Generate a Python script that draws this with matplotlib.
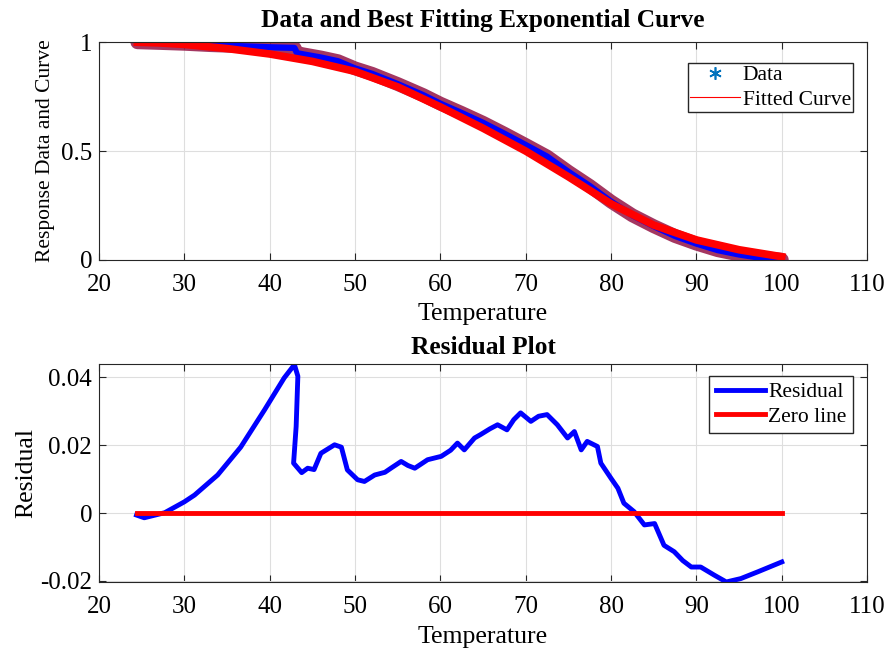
import numpy as np
import matplotlib.pyplot as plt
from matplotlib.lines import Line2D

plt.rcParams['font.family'] = ['Liberation Serif', 'DejaVu Serif']
plt.rcParams['axes.unicode_minus'] = False

data_T = [24.5, 27, 30, 33, 36.6, 40, 42.9, 43.2, 44, 46, 48, 50, 52, 55, 58, 60,
          62.5, 65, 67.5, 70, 72.5, 75, 77.5, 80, 82.5, 85, 87.5, 90, 92.5, 95, 97.5, 100]
data_y = [1.000, 0.997, 0.993, 0.987, 0.982, 0.977, 0.974, 0.950, 0.944, 0.930, 0.913,
          0.880, 0.855, 0.808, 0.757, 0.718, 0.675, 0.630, 0.580, 0.528, 0.475, 0.405,
          0.340, 0.268, 0.205, 0.155, 0.110, 0.075, 0.045, 0.025, 0.010, 0.001]

# fitted exponential curve
fit_T = [24.5, 27, 30, 35, 40, 45, 50, 55, 60, 65, 70, 75, 80, 85, 90, 95, 100]
fit_y = [1.000, 0.997, 0.990, 0.971, 0.946, 0.912, 0.866, 0.795, 0.703, 0.605, 0.500,
         0.382, 0.258, 0.160, 0.092, 0.047, 0.015]

# residuals
res_T = [24.4, 25.3, 27.7, 30.0, 31.2, 33.9, 36.6, 39.4, 41.7, 42.9, 43.3, 43.1, 42.8,
         43.75, 44.45, 45.2, 46.0, 47.6, 48.4, 49.1, 50.3, 51.1, 52.3, 53.5, 54.2, 55.4,
         56.2, 57.0, 58.5, 60.1, 61.2, 62.0, 62.8, 64.0, 64.7, 65.8, 66.7, 67.8, 68.6,
         69.4, 70.6, 71.5, 72.5, 73.7, 74.9, 75.7, 76.5, 77.2, 78.4, 78.8, 80.0, 80.8,
         81.5, 82.7, 83.9, 85.1, 86.2, 87.4, 88.4, 89.4, 90.5, 92.1, 93.5, 95.2, 97.2,
         100.0]
res_y = [-0.0006, -0.0014, 0.0001, 0.0033, 0.0053, 0.0112, 0.0194, 0.0304, 0.0398,
         0.0437, 0.0403, 0.0255, 0.0147, 0.0119, 0.0132, 0.0128, 0.0176, 0.0201, 0.0194,
         0.0127, 0.0098, 0.0093, 0.0112, 0.0120, 0.0132, 0.0152, 0.0140, 0.0132, 0.0157,
         0.0167, 0.0185, 0.0206, 0.0186, 0.0221, 0.0231, 0.0248, 0.0260, 0.0245, 0.0275,
         0.0295, 0.0270, 0.0285, 0.0290, 0.0260, 0.0221, 0.0240, 0.0186, 0.0211, 0.0196,
         0.0147, 0.0102, 0.0073, 0.0029, 0.0004, -0.0035, -0.0031, -0.0095, -0.0114,
         -0.0140, -0.0159, -0.0159, -0.0183, -0.0203, -0.0193, -0.0173, -0.0144]

zero_T = [24.5, 100]
zero_y = [0, 0]

fig = plt.figure(figsize=(8.87, 6.48), dpi=100)
ax1 = fig.add_axes([0.1116, 0.5988, 0.866, 0.336])
ax2 = fig.add_axes([0.1116, 0.1019, 0.866, 0.3364])

maroon = '#9a2150'

ax1.plot(data_T, data_y, color=maroon, lw=10, solid_capstyle='round', alpha=0.9)
ax1.plot(data_T, data_y, color='blue', lw=4.5)
ax1.plot(fit_T, fit_y, color='red', lw=5.5)
ax1.set_xlim(20, 110)
ax1.set_ylim(0, 1)
ax1.set_yticks([0, 0.5, 1])
ax1.set_yticklabels(['0', '0.5', '1'])
ax1.set_xlabel('Temperature', fontsize=18.5, labelpad=5)
ax1.set_ylabel('Response Data and Curve', fontsize=15.5, labelpad=4)
ax1.set_title('Data and Best Fitting Exponential Curve', fontsize=18.3, fontweight='bold', pad=11)
h1 = [Line2D([], [], ls='none', marker=(6, 2, 0), color='#0072BD', markersize=9,
             markeredgewidth=1.2),
      Line2D([], [], color='red', lw=0.8)]
ax1.legend(h1, ['Data', 'Fitted Curve'], loc='upper right', bbox_to_anchor=(0.982, 0.905),
           fontsize=15.5, frameon=True, fancybox=False, edgecolor='#262626',
           borderaxespad=0, handlelength=2.3, borderpad=0.1, labelspacing=0.2,
           handletextpad=0.15, framealpha=1)

ax2.plot(res_T, res_y, color='blue', lw=3.5)
ax2.plot(zero_T, zero_y, color='red', lw=3.5)
ax2.set_xlim(20, 110)
ax2.set_ylim(-0.0203, 0.0439)
ax2.set_yticks([-0.02, 0, 0.02, 0.04])
ax2.set_yticklabels(['-0.02', '0', '0.02', '0.04'])
ax2.set_xlabel('Temperature', fontsize=18.5, labelpad=6)
ax2.set_ylabel('Residual', fontsize=18.5, labelpad=2)
ax2.set_title('Residual Plot', fontsize=18.3, fontweight='bold', pad=7)
h2 = [Line2D([], [], color='blue', lw=3.5), Line2D([], [], color='red', lw=3.5)]
ax2.legend(h2, ['Residual', 'Zero line'], loc='upper right', bbox_to_anchor=(0.982, 0.945),
           fontsize=15.5, frameon=True, fancybox=False, edgecolor='#262626',
           borderaxespad=0, handlelength=2.3, borderpad=0.3, labelspacing=0.2,
           handletextpad=0.15, framealpha=1)

for ax in (ax1, ax2):
    ax.set_xticks(np.arange(20, 111, 10))
    ax.grid(True, color='#dedede', lw=0.8)
    ax.set_axisbelow(True)
    ax.tick_params(direction='in', top=True, right=True, labelsize=18, length=5,
                   color='#262626', width=0.8)
    ax.tick_params(axis='x', pad=10)
    ax.tick_params(axis='y', pad=5)
    for s in ax.spines.values():
        s.set_color('#262626')
        s.set_linewidth(0.8)

fig.savefig('out.png', dpi=100)
